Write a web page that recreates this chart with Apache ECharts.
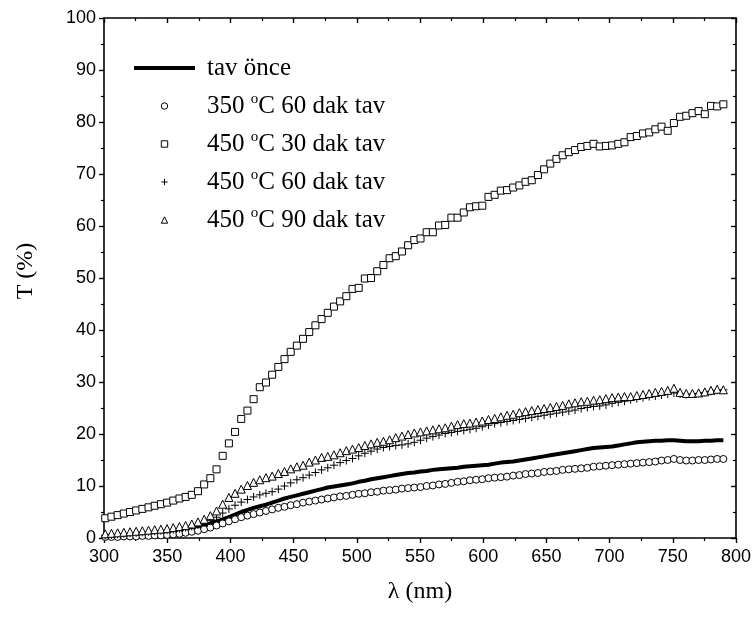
<!DOCTYPE html>
<html>
<head>
<meta charset="utf-8">
<script src="https://cdn.jsdelivr.net/npm/echarts@6/dist/echarts.min.js"></script>
<style>
  html, body { margin: 0; padding: 0; background: #fff; }
  #chart { width: 754px; height: 618px; }
</style>
</head>
<body>
<div id="chart"></div>
<script>
// Sampling grid (nm): 101 readings from 301 nm to 790 nm
const wavelengths = Array.from({ length: 101 }, (_, i) => +(301 + 4.89 * i).toFixed(2));

// Transmittance (%) for each sample
const tavOnce = [
  0.3,0.3,0.4,0.4,0.5,0.6,0.6,0.7,0.8,0.9,
  1.0,1.1,1.3,1.5,1.8,2.1,2.4,2.8,3.2,3.6,
  4.0,4.5,5.0,5.4,5.8,6.1,6.4,6.8,7.2,7.6,
  7.9,8.2,8.5,8.8,9.1,9.4,9.7,9.9,10.1,10.3,
  10.5,10.8,11.0,11.3,11.5,11.7,11.9,12.1,12.3,12.5,
  12.6,12.8,12.9,13.1,13.2,13.3,13.4,13.5,13.7,13.8,
  13.9,14.0,14.1,14.3,14.5,14.6,14.7,14.9,15.1,15.3,
  15.5,15.7,15.9,16.1,16.3,16.5,16.7,16.9,17.1,17.3,
  17.4,17.5,17.6,17.8,18.0,18.2,18.4,18.5,18.6,18.7,
  18.7,18.8,18.8,18.7,18.6,18.6,18.6,18.7,18.7,18.8,
  18.8
];
const c350m60 = [
  0.2,0.2,0.2,0.3,0.3,0.3,0.4,0.4,0.5,0.5,
  0.6,0.7,0.8,1.0,1.2,1.4,1.7,2.0,2.4,2.8,
  3.2,3.6,4.0,4.3,4.6,4.9,5.2,5.5,5.8,6.0,
  6.3,6.5,6.8,7.0,7.2,7.4,7.6,7.8,8.0,8.1,
  8.3,8.5,8.6,8.8,8.9,9.1,9.2,9.3,9.5,9.6,
  9.7,9.8,10.0,10.1,10.3,10.4,10.6,10.8,10.9,11.1,
  11.2,11.3,11.5,11.6,11.7,11.8,12.0,12.1,12.3,12.4,
  12.5,12.7,12.8,12.9,13.1,13.2,13.3,13.4,13.5,13.7,
  13.8,13.9,14.0,14.1,14.2,14.3,14.4,14.5,14.6,14.7,
  14.9,15.0,15.2,15.0,14.9,14.9,15.0,15.0,15.1,15.2,
  15.2
];
const c450m30 = [
  3.8,4.1,4.4,4.7,5.0,5.3,5.6,5.9,6.2,6.5,
  6.8,7.2,7.6,7.9,8.3,9.0,10.3,11.5,13.2,15.8,
  18.2,20.4,22.9,24.5,26.7,29.0,29.9,31.4,32.9,34.4,
  35.8,37.0,38.3,39.6,40.9,42.1,43.3,44.5,45.5,46.5,
  47.9,48.1,49.9,50.0,51.3,52.5,53.8,54.2,55.1,56.3,
  57.3,57.6,58.8,58.8,60.1,60.2,61.6,61.6,62.6,63.6,
  63.8,63.9,65.6,66.0,66.8,66.9,67.4,67.8,68.5,68.8,
  69.8,70.9,72.0,72.9,73.6,74.2,74.6,75.2,75.4,75.8,
  75.3,75.4,75.5,75.8,76.1,77.1,77.3,77.8,78.0,78.6,
  79.1,78.3,79.8,81.0,81.2,81.7,82.1,81.5,83.1,83.0,
  83.4
];
const c450m60 = [
  0.5,0.6,0.7,0.8,0.9,1.0,1.1,1.2,1.3,1.4,
  1.5,1.6,1.8,2.0,2.2,2.5,2.9,3.4,4.0,4.8,
  5.6,6.3,6.9,7.4,7.9,8.3,8.6,8.9,9.4,10.0,
  10.6,11.2,11.6,12.1,12.6,13.1,13.5,14.0,14.5,14.9,
  15.3,15.8,16.3,16.7,17.1,17.4,17.6,17.8,17.9,18.1,
  18.4,18.8,19.2,19.5,19.8,20.1,20.3,20.5,20.7,20.9,
  21.1,21.4,21.7,22.0,22.2,22.4,22.6,22.8,23.0,23.2,
  23.4,23.6,23.8,24.0,24.2,24.4,24.6,24.9,25.1,25.3,
  25.4,25.6,25.9,26.1,26.3,26.6,26.8,27.0,27.2,27.3,
  27.5,27.7,27.9,27.7,27.6,27.7,27.8,28.0,28.2,28.4,
  28.5
];
const c450m90 = [
  0.8,0.9,1.0,1.1,1.2,1.3,1.4,1.5,1.6,1.7,
  1.8,2.0,2.2,2.4,2.7,3.1,3.6,4.3,5.2,6.5,
  7.8,8.6,9.4,10.1,10.7,11.2,11.6,11.9,12.4,12.8,
  13.3,13.7,14.0,14.6,15.0,15.5,15.7,16.0,16.4,16.8,
  17.1,17.4,17.8,18.1,18.4,18.6,18.9,19.3,19.6,19.9,
  20.2,20.4,20.6,20.8,21.0,21.2,21.5,21.8,22.0,22.1,
  22.3,22.5,22.8,23.0,23.3,23.6,23.8,24.1,24.3,24.5,
  24.7,24.9,25.1,25.3,25.5,25.8,26.0,26.2,26.3,26.5,
  26.6,26.8,27.0,27.1,27.2,27.2,27.4,27.6,27.8,28.0,
  28.2,28.4,28.8,28.0,27.8,27.8,27.9,28.1,28.4,28.6,
  28.5
];

const seriesNames = [
  'tav önce',
  '350 °C 60 dak tav',
  '450 °C 30 dak tav',
  '450 °C 60 dak tav',
  '450 °C 90 dak tav'
];
const xTicks = [300, 350, 400, 450, 500, 550, 600, 650, 700, 750, 800];
const yTicks = [0, 10, 20, 30, 40, 50, 60, 70, 80, 90, 100];

const pair = vals => wavelengths.map((w, i) => [w, vals[i]]);
const plusPath = 'path://M0,5L10,5M5,0L5,10';

const markerSeries = (name, vals, symbol, size) => ({
  name, type: 'line', data: pair(vals), xAxisIndex: 0, yAxisIndex: 0,
  symbol, symbolSize: size, showAllSymbol: true,
  lineStyle: { width: 0, color: 'rgba(0,0,0,0)' },
  itemStyle: { color: symbol === plusPath ? 'rgba(0,0,0,0)' : '#fff', borderColor: '#000', borderWidth: 1 },
  emphasis: { disabled: true }, animation: false
});

const axisCommon = {
  type: 'value',
  axisLine: { show: true, onZero: false, lineStyle: { color: '#000', width: 1.6 } },
  splitLine: { show: false },
  minorSplitLine: { show: false }
};
const tickStyle = { color: '#000', width: 1.4 };
const minorStyle = { color: '#000', width: 1.2 };

const chart = echarts.init(document.getElementById('chart'), null, { renderer: 'canvas' });
chart.setOption({
  animation: false,
  backgroundColor: '#fff',
  grid: { left: 104, right: 10, top: 18, bottom: 80, containLabel: false },
  legend: {
    orient: 'vertical', left: 132, top: 55, padding: 0,
    itemWidth: 61, itemHeight: 8, itemGap: 11,
    itemStyle: { borderWidth: 1 },
    textStyle: {
      fontFamily: 'Liberation Serif', fontSize: 25, color: '#000', lineHeight: 26,
      padding: [0, 0, 0, 7],
      rich: { s: { fontFamily: 'Liberation Serif', fontSize: 15, color: '#000', padding: [0, 0, 13, 0] } }
    },
    formatter: n => n.replace('°', '{s|o}'),
    selectedMode: false,
    data: [
      { name: seriesNames[0], itemStyle: { opacity: 0 }, lineStyle: { width: 4, color: '#000' } },
      { name: seriesNames[1], lineStyle: { width: 0 } },
      { name: seriesNames[2], lineStyle: { width: 0 } },
      { name: seriesNames[3], lineStyle: { width: 0 } },
      { name: seriesNames[4], lineStyle: { width: 0 } }
    ]
  },
  xAxis: [
    Object.assign({}, axisCommon, {
      position: 'bottom', min: xTicks[0], max: xTicks[xTicks.length - 1], interval: 50,
      axisTick: { show: true, inside: false, length: 5, lineStyle: tickStyle },
      minorTick: { show: true, splitNumber: 2, length: 3, lineStyle: minorStyle },
      axisLabel: { show: true, margin: 10, color: '#000', fontFamily: 'Liberation Sans', fontSize: 18 },
      name: 'λ (nm)', nameLocation: 'middle', nameGap: 42,
      nameTextStyle: { fontFamily: 'Liberation Serif', fontSize: 24, color: '#000' }
    }),
    Object.assign({}, axisCommon, {
      position: 'top', min: xTicks[0], max: xTicks[xTicks.length - 1], interval: 50,
      axisTick: { show: true, inside: true, length: 5, lineStyle: tickStyle },
      minorTick: { show: true, splitNumber: 2, length: 3, lineStyle: minorStyle },
      axisLabel: { show: false }
    })
  ],
  yAxis: [
    Object.assign({}, axisCommon, {
      position: 'left', min: yTicks[0], max: yTicks[yTicks.length - 1], interval: 10,
      axisTick: { show: true, inside: false, length: 5, lineStyle: tickStyle },
      minorTick: { show: true, splitNumber: 2, length: 3, lineStyle: minorStyle },
      axisLabel: { show: true, margin: 8, color: '#000', fontFamily: 'Liberation Sans', fontSize: 18 },
      name: 'T (%)', nameLocation: 'middle', nameGap: 66, nameRotate: 90,
      nameTextStyle: { fontFamily: 'Liberation Serif', fontSize: 24, color: '#000', padding: [0, 0, 0, 14] }
    }),
    Object.assign({}, axisCommon, {
      position: 'right', min: yTicks[0], max: yTicks[yTicks.length - 1], interval: 10,
      axisTick: { show: true, inside: true, length: 5, lineStyle: tickStyle },
      minorTick: { show: true, splitNumber: 2, length: 3, lineStyle: minorStyle },
      axisLabel: { show: false }
    })
  ],
  series: [
    {
      name: seriesNames[0], type: 'line', data: pair(tavOnce), xAxisIndex: 0, yAxisIndex: 0,
      symbol: 'none', lineStyle: { width: 4, color: '#000' }, itemStyle: { color: '#000' },
      emphasis: { disabled: true }, z: 3
    },
    markerSeries(seriesNames[1], c350m60, 'circle', 7),
    markerSeries(seriesNames[2], c450m30, 'rect', 7),
    markerSeries(seriesNames[3], c450m60, plusPath, 8),
    markerSeries(seriesNames[4], c450m90, 'triangle', 8)
  ]
});
</script>
</body>
</html>
